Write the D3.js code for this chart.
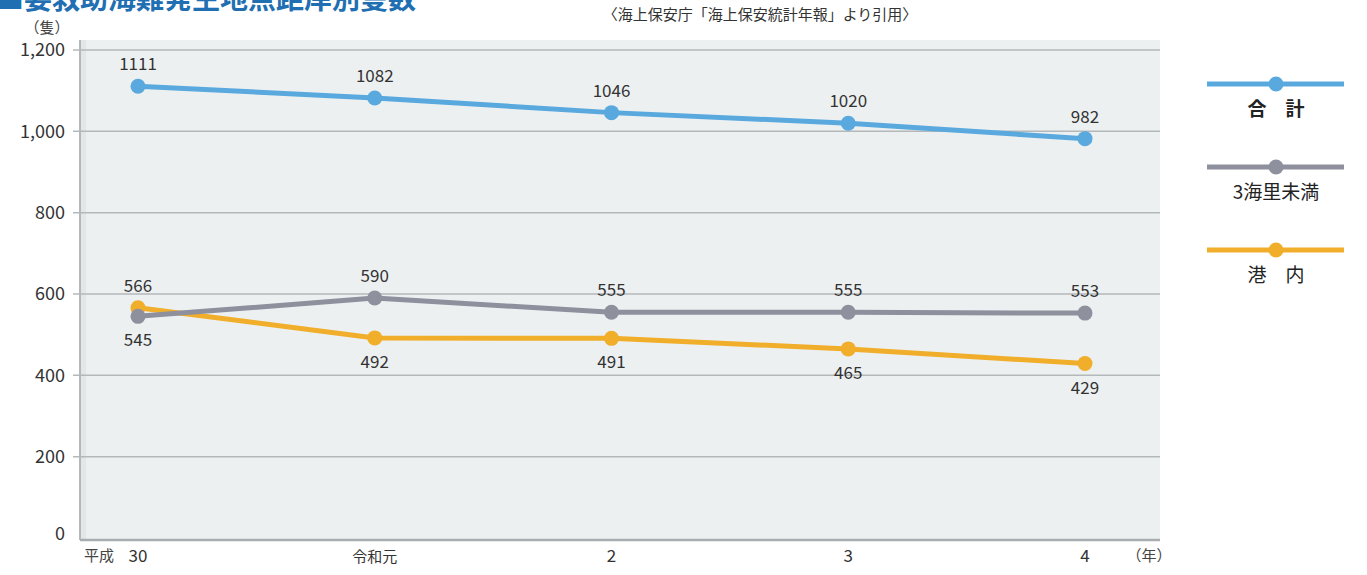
<!DOCTYPE html>
<html>
<head>
<meta charset="utf-8">
<script src="https://cdn.jsdelivr.net/npm/d3@7"></script>
<style>
  body { margin: 0; background: #fff; }
  svg { display: block; font-family: "Noto Sans CJK JP", "Noto Sans", sans-serif; }
</style>
</head>
<body>
<svg id="chart" width="1367" height="575"></svg>
<script>
// data
var years = ["30", "令和元", "2", "3", "4"];
var total = [1111, 1082, 1046, 1020, 982];
var within3 = [545, 590, 555, 555, 553];
var harbor = [566, 492, 491, 465, 429];
var yTicks = [0, 200, 400, 600, 800, 1000, 1200];

var seriesNames = ["合　計", "3海里未満", "港　内"];
var seriesColors = ["#5aa9de", "#8e909d", "#f0ae2b"];

var svg = d3.select("#chart");

// plot area (note: "top" is taken by window.top, so use other names)
var plotL = 80, plotR = 1160, plotT = 40, plotB = 540;

var x = d3.scalePoint().domain(years).range([138, 1085]);
var y = d3.scaleLinear().domain([0, 1200]).range([538, 50]);

// background panel
svg.append("rect")
  .attr("x", plotL).attr("y", plotT)
  .attr("width", plotR - plotL).attr("height", plotB - plotT)
  .attr("fill", "#edf0f1");

// soft shadow on the left edge
svg.append("rect")
  .attr("x", plotL + 1).attr("y", plotT)
  .attr("width", 5).attr("height", plotB - plotT)
  .attr("fill", "#e3e7e8");

// grid lines
svg.append("g").selectAll("line")
  .data(yTicks.filter(d => d > 0))
  .enter().append("line")
  .attr("x1", plotL - 7).attr("x2", plotR)
  .attr("y1", d => y(d)).attr("y2", d => y(d))
  .attr("stroke", "#b3b8ba").attr("stroke-width", 1.5);

// left and bottom frame
svg.append("line")
  .attr("x1", plotL).attr("x2", plotL).attr("y1", plotT).attr("y2", plotB)
  .attr("stroke", "#b3b8ba").attr("stroke-width", 2);
svg.append("line")
  .attr("x1", plotL).attr("x2", plotR).attr("y1", plotB).attr("y2", plotB)
  .attr("stroke", "#a8aeb0").attr("stroke-width", 2.5);

// y labels
svg.append("g").selectAll("text")
  .data(yTicks)
  .enter().append("text")
  .attr("x", 65).attr("y", d => d == 0 ? y(d) - 4 : y(d))
  .attr("dy", "0.36em")
  .attr("text-anchor", "end")
  .attr("font-size", 18).attr("fill", "#333")
  .text(d => d3.format(",")(d));

svg.append("text").attr("x", 47).attr("y", 33)
  .attr("text-anchor", "middle").attr("font-size", 15).attr("fill", "#444")
  .text("（隻）");

// x labels
svg.append("g").selectAll("text")
  .data(years)
  .enter().append("text")
  .attr("x", d => x(d)).attr("y", 562)
  .attr("text-anchor", "middle")
  .attr("font-size", d => d == "令和元" ? 15 : 17)
  .attr("fill", "#333")
  .text(d => d);
svg.append("text").attr("x", 99).attr("y", 561)
  .attr("text-anchor", "middle").attr("font-size", 15).attr("fill", "#444")
  .text("平成");
svg.append("text").attr("x", 1149).attr("y", 561)
  .attr("text-anchor", "middle").attr("font-size", 15).attr("fill", "#444")
  .text("（年）");

// title and source
svg.append("text").attr("x", -4).attr("y", 9)
  .attr("font-size", 28).attr("font-weight", "bold").attr("fill", "#1f6fb2")
  .text("■要救助海難発生地点距岸別隻数");
svg.append("text").attr("x", 760).attr("y", 20)
  .attr("text-anchor", "middle").attr("font-size", 15).attr("fill", "#333")
  .text("〈海上保安庁「海上保安統計年報」より引用〉");

// lines
var line = d3.line().x((d, i) => x(years[i])).y(d => y(d));
var drawOrder = [[harbor, 2], [within3, 1], [total, 0]];
drawOrder.forEach(function (s) {
  var vals = s[0], c = seriesColors[s[1]];
  svg.append("path").datum(vals)
    .attr("d", line).attr("fill", "none")
    .attr("stroke", c).attr("stroke-width", 5)
    .attr("stroke-linejoin", "round");
  svg.append("g").selectAll("circle")
    .data(vals).enter().append("circle")
    .attr("cx", (d, i) => x(years[i])).attr("cy", d => y(d))
    .attr("r", 7.5).attr("fill", c);
});

// value labels
function addLabels(vals, pos) {
  svg.append("g").selectAll("text")
    .data(vals).enter().append("text")
    .attr("x", (d, i) => x(years[i]))
    .attr("y", (d, i) => pos(i) == "above" ? y(d) - 16 : y(d) + 30)
    .attr("text-anchor", "middle")
    .attr("font-size", 17).attr("fill", "#333")
    .text(d => d);
}
addLabels(total, i => "above");
addLabels(within3, i => within3[i] >= harbor[i] ? "above" : "below");
addLabels(harbor, i => harbor[i] > within3[i] ? "above" : "below");

// legend
var lg = svg.append("g");
seriesNames.forEach(function (name, i) {
  var ly = 84 + i * 83;
  lg.append("line")
    .attr("x1", 1207).attr("x2", 1344).attr("y1", ly).attr("y2", ly)
    .attr("stroke", seriesColors[i]).attr("stroke-width", 5);
  lg.append("circle").attr("cx", 1276).attr("cy", ly).attr("r", 7.5)
    .attr("fill", seriesColors[i]);
  lg.append("text").attr("x", 1276).attr("y", ly + 32)
    .attr("text-anchor", "middle").attr("font-size", 19)
    .attr("font-weight", i == 0 ? "bold" : "normal")
    .attr("fill", "#222")
    .text(name);
});
</script>
</body>
</html>
